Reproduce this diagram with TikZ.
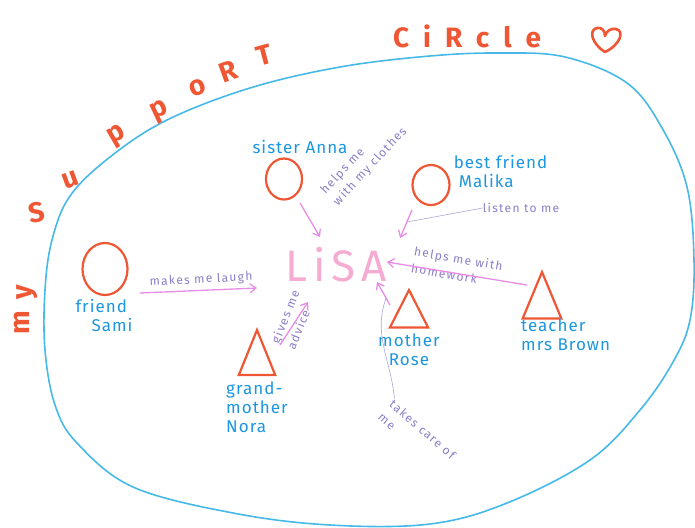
\documentclass[tikz,border=0pt]{standalone}
\usepackage{fontspec}
\setmainfont{Fira Sans}
\newfontfamily\notefont[LetterSpace=11]{Fira Sans}
\newfontfamily\namefont[LetterSpace=6]{Fira Sans}
\newfontfamily\titlefont[LetterSpace=50]{Fira Sans}
\newfontfamily\lisafont[LetterSpace=14]{Fira Sans}
\usetikzlibrary{arrows.meta, positioning, shapes.geometric}
\definecolor{penred}{RGB}{238,86,52}
\definecolor{penblue}{RGB}{28,150,222}
\definecolor{loopblue}{RGB}{70,185,232}
\definecolor{penpink}{RGB}{232,140,230}
\definecolor{lisapink}{RGB}{246,172,210}
\definecolor{penlilac}{RGB}{140,125,200}

\begin{document}
\begin{tikzpicture}[
  x = 1pt, y = -1pt,
  every node/.style = {inner sep=0pt},
  title letter/.style = {text=penred, font=\bfseries\fontsize{28}{28}\selectfont},
  friend/.style = {ellipse, draw=penred, line width=2.2pt,
                   minimum width=36pt, minimum height=41pt},
  elder/.style = {regular polygon, regular polygon sides=3, draw=penred,
                  line width=2.2pt, minimum size=60pt, transform shape},
  who/.style = {text=penblue, font=\namefont\fontsize{17}{19}\selectfont, align=left},
  note/.style = {text=penlilac, font=\notefont\fontsize{12}{17}\selectfont, align=left},
  arrow/.style = {-{Straight Barb[length=6pt, width=9pt]}, penpink, line width=1.3pt},
  leader/.style = {penlilac!70, line width=.6pt},
]
\useasboundingbox (0,0) rectangle (695,527);

% the circle round everybody
\draw[loopblue, line width=1.6pt] plot[smooth cycle, tension=.6] coordinates {
  (110,157) (167,120) (250,88) (340,67) (430,56) (500,53) (565,57) (627,83)
  (662,128) (687,187) (694,260) (690,320) (673,362) (640,410) (590,460)
  (507,503) (430,524) (330,525) (233,513) (133,487) (77,443) (55,405)
  (45,350) (45,290) (52,240) (70,196)};

% title
\foreach \ch/\px/\py/\ang [count=\k] in {m/22/323/90, y/27/292/90, S/37/213/10,
    u/71/180/20, p/117/136/30, p/160/112/25, o/198/88/20, R/228/71/20, T/264/55/15}
  \node[title letter, rotate=\ang] (title\k) at (\px,\py) {\ch};
\node[text=penred, font=\titlefont\bfseries\fontsize{28}{28}\selectfont] (titleend) at (467,36) {CiRcle};
\draw[penred, line width=2.6pt, line join=round]
  (605,52) .. controls (592,44) and (588,30) .. (597,28)
  .. controls (602,27) and (605,31) .. (605,36)
  .. controls (606,31) and (611,28) .. (616,29)
  .. controls (625,31) and (620,45) .. cycle;

\node[text=lisapink, font=\lisafont\fontsize{44}{44}\selectfont] (lisa) at (336,265) {LiSA};

% people
\node[friend] (anna) at (284,179) {};
\node[who, above=3pt of anna, xshift=16pt] (annaname) {sister Anna};
\node[friend, minimum width=37pt, minimum height=40pt] (malika) at (431,185) {};
\node[who, right=3pt of malika, yshift=14pt] (malikaname) {best friend\\\hspace*{5pt}Malika};
\node[friend, minimum width=45pt, minimum height=52pt] (sami) at (105,269) {};
\node[who, below=3pt of sami, xshift=-1pt] (saminame) {friend\\\hspace*{16pt}Sami};
\node[elder, xscale=.7] (nora) at (257,360) {};
\node[who, below=5pt of nora] (noraname) {grand-\\mother\\Nora};
\node[elder, minimum size=50pt, xscale=.88] (rose) at (409,315) {};
\node[who, below=5pt of rose, align=center] (rosename) {mother\\Rose};
\node[elder, minimum size=62pt, xscale=.72] (brown) at (542,303) {};
\node[who, anchor=north west] (brownname) at (521,319) {teacher\\mrs Brown};

% what they do
\node[note, rotate=47] (clothesnote) at (364,161) {helps me\\with my clothes};
\node[note] (listennote) at (521,208) {listen to me};
\node[note, rotate=3] (laughnote) at (201,280) {makes me laugh};
\node[note, rotate=68] (advicenote) at (293,320) {gives me\\advice};
\node[note, rotate=-10] (homeworknote) at (457,267) {helps me with\\homework};
\node[note, rotate=-41] (carenote) at (417,436) {takes care of\\me};

\draw[arrow] ([shift={(16,24)}]anna.center) -- ([shift={(-16,-28)}]lisa.center);
\draw[arrow] ([shift={(-19,25)}]malika.center) -- coordinate[pos=.43] (listenpin)
  ([shift={(64,-27)}]lisa.center);
\draw[arrow] ([shift={(35,24)}]sami.center) -- ([shift={(-79,23)}]lisa.center);
\draw[arrow] ([shift={(23,-15)}]nora.center) -- ([shift={(-28,37)}]lisa.center);
\draw[arrow] ([shift={(-19,-10)}]rose.center) -- coordinate[pos=.3] (carepin)
  ([shift={(41,17)}]lisa.center);
\draw[arrow] ([shift={(-15,-18)}]brown.center) -- ([shift={(51,-3)}]lisa.center);

\draw[leader] (listennote.west) -- (listenpin);
\draw[leader] (carepin) to[out=-110, in=95] (carenote.north west);
\end{tikzpicture}
\end{document}
